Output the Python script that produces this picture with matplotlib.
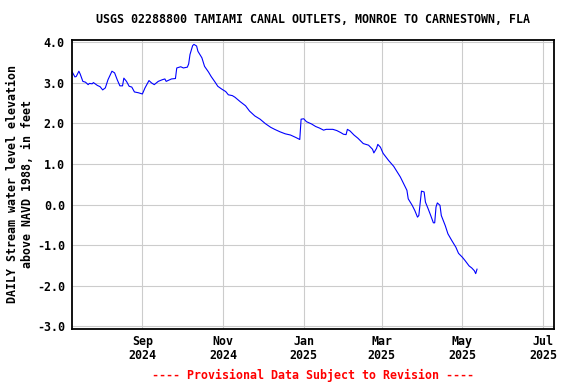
import numpy as np
import pandas as pd
import matplotlib
matplotlib.use("Agg")
import matplotlib.pyplot as plt
import matplotlib.dates as mdates

# Daily stream water level (ft above NAVD 1988)
dates = [
    "2024-07-10", "2024-07-12", "2024-07-13", "2024-07-15", "2024-07-16", "2024-07-18",
    "2024-07-20", "2024-07-22", "2024-07-23", "2024-07-25", "2024-07-26", "2024-07-29",
    "2024-07-31", "2024-08-02", "2024-08-04", "2024-08-06", "2024-08-09", "2024-08-11",
    "2024-08-13", "2024-08-15", "2024-08-17", "2024-08-18", "2024-08-20", "2024-08-22",
    "2024-08-24", "2024-08-26", "2024-08-29", "2024-09-01", "2024-09-03", "2024-09-06",
    "2024-09-08", "2024-09-10", "2024-09-13", "2024-09-16", "2024-09-18", "2024-09-19",
    "2024-09-23", "2024-09-26", "2024-09-27", "2024-09-30", "2024-10-02", "2024-10-05",
    "2024-10-06", "2024-10-07", "2024-10-09", "2024-10-10", "2024-10-12", "2024-10-13",
    "2024-10-16", "2024-10-18", "2024-10-21", "2024-10-23", "2024-10-26", "2024-10-28",
    "2024-10-31", "2024-11-03", "2024-11-05", "2024-11-08", "2024-11-10", "2024-11-14",
    "2024-11-18", "2024-11-21", "2024-11-25", "2024-11-29", "2024-12-03", "2024-12-07",
    "2024-12-10", "2024-12-14", "2024-12-18", "2024-12-22", "2024-12-26", "2024-12-29",
    "2024-12-30", "2025-01-01", "2025-01-03", "2025-01-07", "2025-01-10", "2025-01-13",
    "2025-01-16", "2025-01-18", "2025-01-23", "2025-01-26", "2025-01-29", "2025-01-31",
    "2025-02-02", "2025-02-03", "2025-02-05", "2025-02-08", "2025-02-11", "2025-02-15",
    "2025-02-19", "2025-02-22", "2025-02-23", "2025-02-25", "2025-02-26", "2025-02-28",
    "2025-03-02", "2025-03-06", "2025-03-10", "2025-03-15", "2025-03-17", "2025-03-20",
    "2025-03-21", "2025-03-24", "2025-03-26", "2025-03-28", "2025-03-29", "2025-03-30",
    "2025-03-31", "2025-04-02", "2025-04-03", "2025-04-05", "2025-04-07", "2025-04-09",
    "2025-04-10", "2025-04-11", "2025-04-12", "2025-04-14", "2025-04-15", "2025-04-18",
    "2025-04-20", "2025-04-23", "2025-04-26", "2025-04-28", "2025-05-01", "2025-05-03",
    "2025-05-06", "2025-05-08", "2025-05-10", "2025-05-11", "2025-05-12",
]
levels = [
    3.26, 3.14, 3.15, 3.28, 3.21, 3.03,
    3.01, 2.95, 2.98, 2.97, 3.00, 2.93,
    2.90, 2.82, 2.87, 3.07, 3.28, 3.24,
    3.07, 2.92, 2.92, 3.11, 3.03, 2.91,
    2.89, 2.77, 2.75, 2.72, 2.87, 3.05,
    2.99, 2.95, 3.03, 3.07, 3.09, 3.03,
    3.09, 3.10, 3.36, 3.39, 3.36, 3.38,
    3.46, 3.69, 3.91, 3.94, 3.90, 3.77,
    3.61, 3.40, 3.26, 3.15, 3.01, 2.91,
    2.84, 2.78, 2.70, 2.68, 2.64, 2.53,
    2.43, 2.30, 2.18, 2.10, 1.99, 1.90,
    1.85, 1.79, 1.74, 1.71, 1.65, 1.60,
    2.10, 2.11, 2.04, 1.98, 1.92, 1.88,
    1.83, 1.85, 1.85, 1.82, 1.77, 1.73,
    1.72, 1.85, 1.81, 1.71, 1.63, 1.50,
    1.46, 1.36, 1.27, 1.38, 1.48, 1.41,
    1.26, 1.09, 0.94, 0.68, 0.55, 0.35,
    0.14, -0.02, -0.15, -0.31, -0.27, 0.02,
    0.33, 0.31, 0.06, -0.10, -0.27, -0.45,
    -0.45, -0.06, 0.04, -0.02, -0.27, -0.52,
    -0.72, -0.89, -1.05, -1.20, -1.30, -1.38,
    -1.51, -1.56, -1.63, -1.70, -1.59,
]
y_ticks = [4.0, 3.0, 2.0, 1.0, 0.0, -1.0, -2.0, -3.0]
x_ticks = ["2024-09-01", "2024-11-01", "2025-01-01", "2025-03-01", "2025-05-01", "2025-07-01"]

title = "USGS 02288800 TAMIAMI CANAL OUTLETS, MONROE TO CARNESTOWN, FLA"
ylabel = "DAILY Stream water level elevation\nabove NAVD 1988, in feet"
footer = "---- Provisional Data Subject to Revision ----"

plt.rcParams['font.family'] = ['DejaVu Sans Mono']
plt.rcParams['font.weight'] = 'bold'
fs = 8.4

fig = plt.figure(figsize=(5.76, 3.84), dpi=100)
ax = fig.add_axes([0.1245, 0.1424, 0.838, 0.7547])

ax.plot(pd.to_datetime(dates), levels, color='#0000ff', linewidth=0.8)

ax.set_xlim(pd.Timestamp("2024-07-09 14:00"), pd.Timestamp("2025-07-09 12:00"))
ax.set_ylim(-3.07, 4.06)

ax.set_yticks(y_ticks)
ax.set_yticklabels([f"{v:.1f}" for v in y_ticks])
ax.set_xticks(pd.to_datetime(x_ticks))
ax.xaxis.set_major_formatter(mdates.DateFormatter("%b\n%Y"))

ax.tick_params(axis='both', length=0, labelsize=fs)
ax.tick_params(axis='y', pad=5)
ax.tick_params(axis='x', pad=4)
for lab in ax.get_xticklabels() + ax.get_yticklabels():
    lab.set_fontweight('bold')
    lab.set_linespacing(1.1)

ax.grid(True, color='#cccccc', linewidth=0.8)
ax.set_axisbelow(True)
for sp in ax.spines.values():
    sp.set_linewidth(1.3)
    sp.set_color('black')

ax.set_ylabel(ylabel, fontsize=fs, fontweight='bold', labelpad=2, linespacing=1.15)

fig.text(0.5435, 0.95, title, ha='center', va='center', fontsize=fs, fontweight='bold')
fig.text(0.5435, 0.023, footer, ha='center', va='center', fontsize=fs,
         fontweight='bold', color='red')

fig.savefig("out.png", dpi=100)
